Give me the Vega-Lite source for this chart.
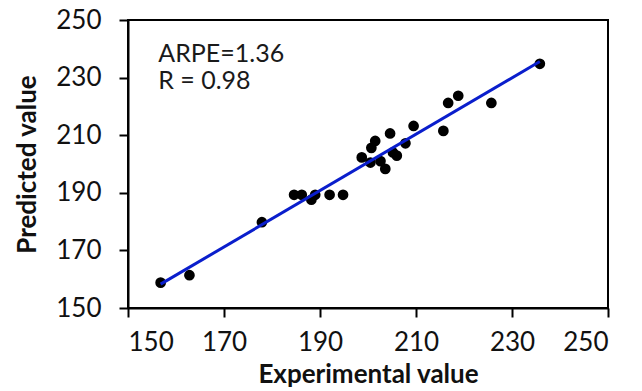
{
  "$schema": "https://vega.github.io/schema/vega-lite/v6.json",
  "autosize": {"type": "none"},
  "padding": {"left": 128, "top": 20, "right": 34, "bottom": 83},
  "width": 480,
  "height": 288,
  "background": "white",
  "config": {
    "view": {"stroke": "black", "strokeWidth": 2},
    "axis": {
      "grid": false,
      "domainColor": "black",
      "domainWidth": 2,
      "tickColor": "black",
      "tickWidth": 2,
      "tickSize": 9,
      "labelFont": "Lato",
      "labelFontSize": 26,
      "labelColor": "#111111",
      "titleFont": "Lato",
      "titleFontSize": 26,
      "titleFontWeight": "bold",
      "titleColor": "#111111"
    }
  },
  "datasets": {
    "pts": [
      {"exp": 156.8, "pred": 158.8},
      {"exp": 162.8, "pred": 161.4},
      {"exp": 177.9, "pred": 179.8},
      {"exp": 184.6, "pred": 189.3},
      {"exp": 186.2, "pred": 189.3},
      {"exp": 188.2, "pred": 187.6},
      {"exp": 189.0, "pred": 189.3},
      {"exp": 192.0, "pred": 189.3},
      {"exp": 194.8, "pred": 189.3},
      {"exp": 198.7, "pred": 202.3},
      {"exp": 200.5, "pred": 200.5},
      {"exp": 200.7, "pred": 205.6},
      {"exp": 201.5, "pred": 208.0},
      {"exp": 202.6, "pred": 201.0},
      {"exp": 203.6, "pred": 198.3},
      {"exp": 204.6, "pred": 210.6},
      {"exp": 205.2, "pred": 204.0},
      {"exp": 206.0, "pred": 202.9},
      {"exp": 207.8, "pred": 207.2},
      {"exp": 209.5, "pred": 213.2},
      {"exp": 215.7, "pred": 211.5},
      {"exp": 216.7, "pred": 221.2},
      {"exp": 218.8, "pred": 223.7},
      {"exp": 225.7, "pred": 221.2},
      {"exp": 235.8, "pred": 234.8}
    ],
    "notes": [
      {"exp": 156.3, "pred": 235.5, "label": "ARPE=1.36"},
      {"exp": 156.3, "pred": 225.9, "label": "R = 0.98"}
    ]
  },
  "encoding": {
    "x": {
      "field": "exp", "type": "quantitative",
      "scale": {"domain": [150, 250], "nice": false, "zero": false},
      "axis": {"values": [150, 170, 190, 210, 230, 250], "title": "Experimental value", "labelPadding": 12, "titlePadding": 6}
    },
    "y": {
      "field": "pred", "type": "quantitative",
      "scale": {"domain": [150, 250], "nice": false, "zero": false},
      "axis": {"values": [150, 170, 190, 210, 230, 250], "title": "Predicted value", "labelPadding": 18, "titlePadding": 15}
    }
  },
  "layer": [
    {
      "data": {"name": "pts"},
      "mark": {"type": "point", "filled": true, "color": "black", "size": 115, "opacity": 1}
    },
    {
      "data": {"name": "pts"},
      "transform": [{"regression": "pred", "on": "exp"}],
      "mark": {"type": "line", "color": "#0a1ecc", "strokeWidth": 3}
    },
    {
      "data": {"name": "notes"},
      "mark": {"type": "text", "align": "left", "baseline": "alphabetic", "font": "Lato", "fontSize": 25, "color": "#1a1a1a"},
      "encoding": {"text": {"field": "label"}}
    }
  ]
}
